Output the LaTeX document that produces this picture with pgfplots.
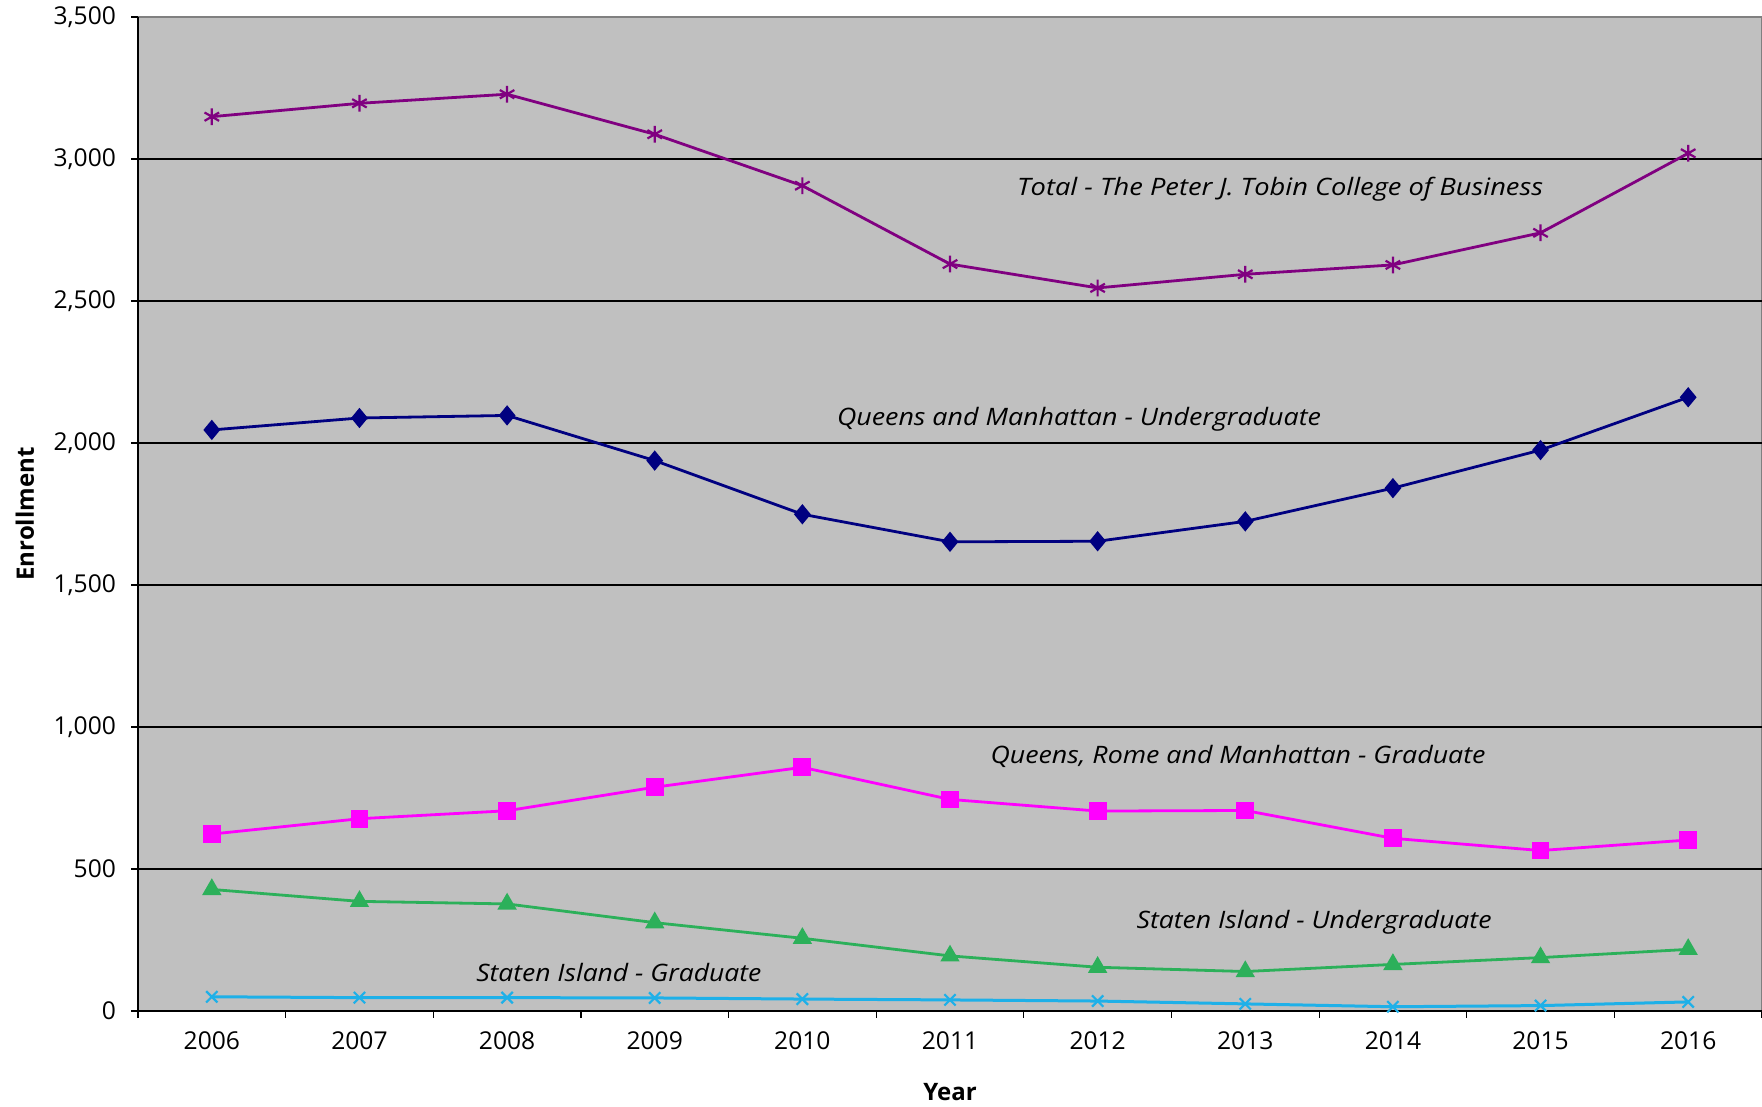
\documentclass[border=0pt]{standalone}
\usepackage{fontspec}
\setmainfont{Open Sans}
\usepackage{pgfplots}
\pgfplotsset{compat=1.18}
\definecolor{plotbg}{RGB}{192,192,192}
\definecolor{totc}{RGB}{128,0,128}
\definecolor{qmc}{RGB}{0,0,128}
\definecolor{qrmc}{RGB}{255,0,255}
\definecolor{siugc}{RGB}{44,176,90}
\definecolor{sigc}{RGB}{30,176,232}
\begin{document}
\begin{tikzpicture}
\begin{axis}[name=ax, scale only axis, width=812pt, height=497pt,
  xmin=-0.5, xmax=10.5, ymin=0, ymax=3500,
  axis background/.style={fill=plotbg, draw=gray, line width=0.8pt},
  axis lines*=left, axis line style={black, line width=0.8pt, -},
  tick align=outside,
  tick style={black, line width=0.6pt},
  major tick length=3.5pt,
  ytick={0,500,...,3500},
  extra y ticks={500,1000,...,3000},
  extra y tick labels={},
  extra y tick style={ymajorgrids, major tick length=0pt, grid style={black, line width=0.6pt}},
  xtick={-0.5,0.5,...,10.5},
  xticklabels={},
  extra x ticks={0,1,...,10},
  extra x tick labels={2006,2007,2008,2009,2010,2011,2012,2013,2014,2015,2016},
  extra x tick style={major tick length=0pt},
  /pgf/number format/1000 sep={,},
  /pgf/number format/assume math mode=true,
  every tick label/.append style={font=\fontsize{12.3}{14}\selectfont},
  xticklabel style={anchor=north, yshift=-7pt},
  yticklabel style={anchor=east, xshift=-4pt},
  xlabel={Year}, ylabel={Enrollment},
  label style={font=\bfseries\fontsize{12}{14}\selectfont},
  xlabel style={at={(axis description cs:0.5,0)}, anchor=center, yshift=-40.5pt},
  ylabel style={at={(axis description cs:0,0.5)}, anchor=center, yshift=56.5pt},
  clip=false,
]
\addplot[color=qmc, line width=1.4pt, mark=diamond*, mark size=4pt, mark options={solid, fill=qmc, xscale=1.1}]
 coordinates {(0,2046)(1,2088)(2,2097)(3,1938)(4,1749)(5,1652)(6,1654)(7,1724)(8,1841)(9,1975)(10,2161)};
\addplot[color=qrmc, line width=1.4pt, mark=square*, mark size=3.75pt, mark options={solid, fill=qrmc}]
 coordinates {(0,623)(1,677)(2,705)(3,788)(4,858)(5,745)(6,704)(7,706)(8,608)(9,565)(10,602)};
\addplot[color=siugc, line width=1.4pt, mark=triangle*, mark size=4.2pt, mark options={solid, fill=siugc}]
 coordinates {(0,428)(1,386)(2,377)(3,311)(4,256)(5,194)(6,154)(7,139)(8,164)(9,188)(10,217)};
\addplot[color=sigc, line width=1.5pt, mark=x, mark size=4pt, mark options={solid, line width=1.1pt}]
 coordinates {(0,50)(1,47)(2,47)(3,46)(4,42)(5,39)(6,35)(7,25)(8,15)(9,19)(10,32)};
\addplot[color=totc, line width=1.4pt, mark=asterisk, mark size=4.2pt, mark options={solid, line width=1.1pt}]
 coordinates {(0,3149)(1,3196)(2,3228)(3,3087)(4,2906)(5,2630)(6,2546)(7,2594)(8,2627)(9,2740)(10,3020)};
\node[font=\itshape\fontsize{12}{14}\selectfont] at (axis cs:7.236,2895) {\resizebox{263pt}{\height}{Total - The Peter J. Tobin College of Business}};
\node[font=\itshape\fontsize{12}{14}\selectfont] at (axis cs:5.874,2085) {\resizebox{242pt}{\height}{Queens and Manhattan - Undergraduate}};
\node[font=\itshape\fontsize{12}{14}\selectfont] at (axis cs:6.951,895) {\resizebox{247.5pt}{\height}{Queens, Rome and Manhattan - Graduate}};
\node[font=\itshape\fontsize{12}{14}\selectfont] at (axis cs:7.466,311) {\resizebox{177.5pt}{\height}{Staten Island - Undergraduate}};
\node[font=\itshape\fontsize{12}{14}\selectfont] at (axis cs:2.757,135) {\resizebox{142.5pt}{\height}{Staten Island - Graduate}};
\end{axis}
\pgfresetboundingbox
\path[use as bounding box] ([xshift=-69pt,yshift=-48pt]ax.south west) rectangle ([yshift=8.5pt]ax.north east);
\end{tikzpicture}
\end{document}
